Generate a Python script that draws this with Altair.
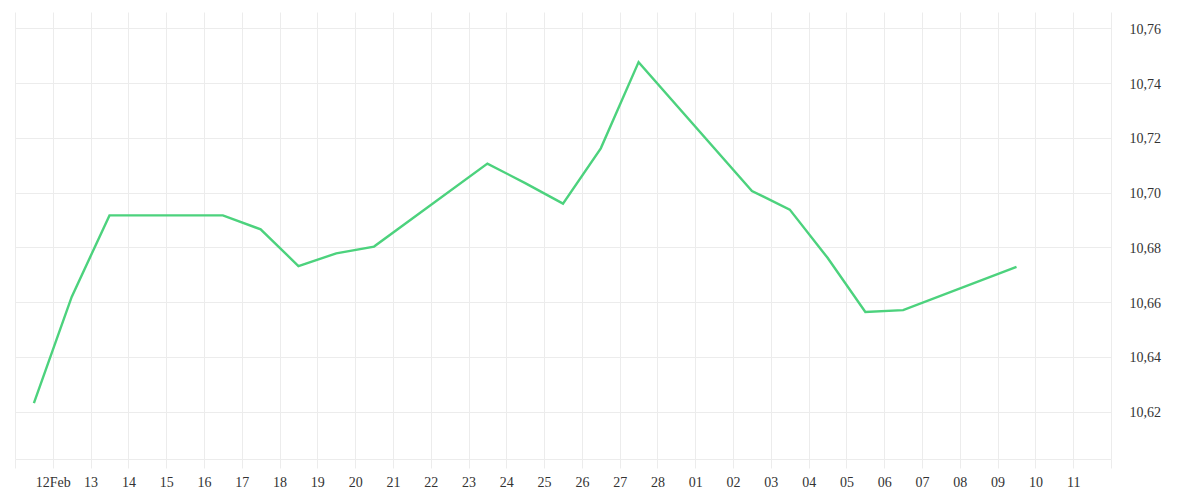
import pandas as pd
import altair as alt

# trading days and closing values
dates = [
    "2025-02-12", "2025-02-13", "2025-02-14", "2025-02-17", "2025-02-18",
    "2025-02-19", "2025-02-20", "2025-02-21", "2025-02-24", "2025-02-25",
    "2025-02-26", "2025-02-27", "2025-02-28", "2025-03-03", "2025-03-04",
    "2025-03-05", "2025-03-06", "2025-03-07", "2025-03-10",
]
values = [
    10.6231, 10.6619, 10.6917, 10.6917, 10.6866,
    10.6732, 10.6778, 10.6803, 10.7106, 10.7035,
    10.6960, 10.7162, 10.7477, 10.7006, 10.6938,
    10.6762, 10.6564, 10.6571, 10.6729,
]
y_ticks = [10.62, 10.64, 10.66, 10.68, 10.70, 10.72, 10.74, 10.76]

data = pd.DataFrame({"date": dates, "value": values})

grid_color = "#ececec"
text_color = "#333333"
font = "Liberation Serif"

x_start = alt.DateTime(year=2025, month=2, date=11, utc=True)
x_end = alt.DateTime(year=2025, month=3, date=12, utc=True)

label_expr = (
    "utcFormat(datum.value, '%m-%d') == '02-11' || utcFormat(datum.value, '%m-%d') == '03-12' ? '' : "
    "utcFormat(datum.value, '%m-%d') == '02-12' ? '12Feb' : utcFormat(datum.value, '%d')"
)

line = alt.Chart(data).mark_line(
    color="#4cd27d",
    strokeWidth=2.4
).transform_calculate(
    # each day's point sits in the middle of the day before its label
    t="toDate(datum.date) - 43200000"
).encode(
    x=alt.X(
        "t:T",
        title=None,
        scale=alt.Scale(type="utc", domain=[x_start, x_end], nice=False),
        axis=alt.Axis(
            tickCount={"interval": "day", "step": 1},
            labelExpr=label_expr,
            labelAngle=0,
            labelFont=font,
            labelFontSize=14,
            labelColor=text_color,
            labelPadding=7,
            labelBaseline="top",
            labelOverlap=False,
            labelFlush=False,
            tickSize=9,
            tickColor=grid_color,
            domainColor=grid_color,
            gridColor=grid_color,
            grid=True,
        ),
    ),
    y=alt.Y(
        "value:Q",
        title=None,
        scale=alt.Scale(domain=[10.6027, 10.766], nice=False, zero=False),
        axis=alt.Axis(
            orient="right",
            values=y_ticks,
            labelExpr="replace(format(datum.value, '.2f'), '.', ',')",
            labelFont=font,
            labelFontSize=14,
            labelColor=text_color,
            labelPadding=18,
            labelOffset=1,
            ticks=False,
            tickSize=0,
            domain=False,
            gridColor=grid_color,
            grid=True,
        ),
    ),
).properties(
    width=1096,
    height=447,
    padding={"left": 6, "top": 4, "right": 5, "bottom": 5},
).configure_view(
    stroke=None
)

line.save("out.html", embed_options={"renderer": "svg", "actions": False})
